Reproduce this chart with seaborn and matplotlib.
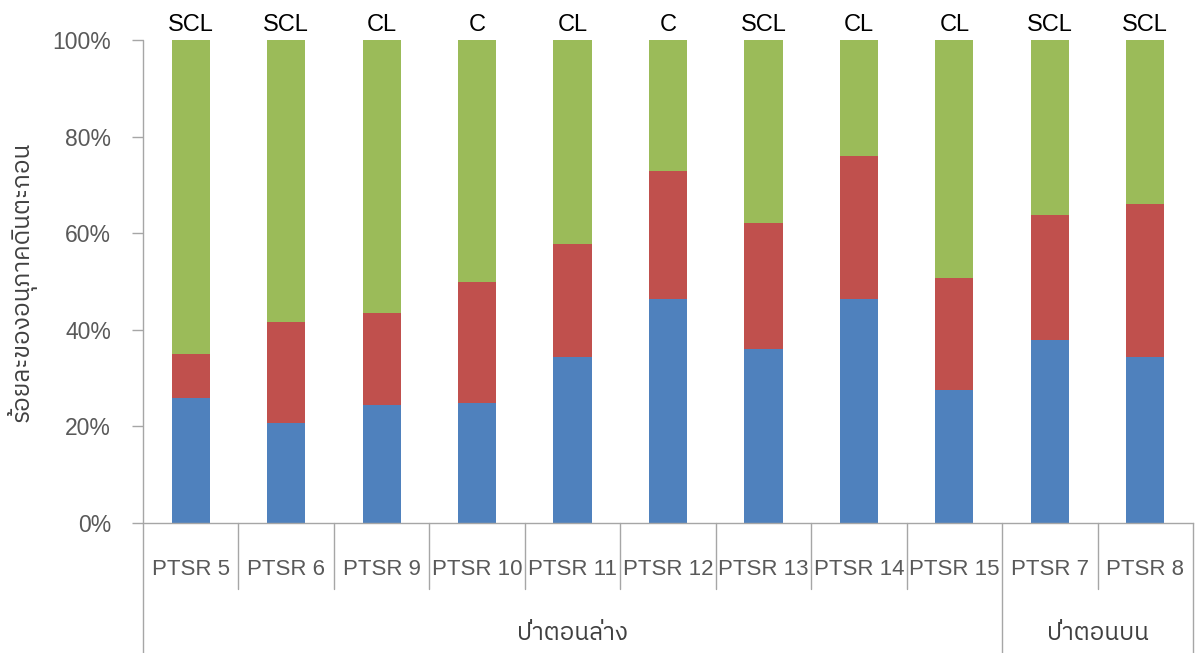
import matplotlib
matplotlib.use("Agg")
import matplotlib.pyplot as plt
from matplotlib import font_manager
import matplotlib.transforms as mtransforms
import seaborn as sns
import numpy as np
import pandas as pd

# ---- data -------------------------------------------------------------
samples = ["PTSR 5", "PTSR 6", "PTSR 9", "PTSR 10", "PTSR 11", "PTSR 12",
           "PTSR 13", "PTSR 14", "PTSR 15", "PTSR 7", "PTSR 8"]
clay = [25.8, 20.8, 24.5, 24.9, 34.4, 46.3, 36.1, 46.3, 27.6, 37.9, 34.4]
silt = [9.1, 20.8, 18.9, 24.9, 23.4, 26.5, 26.1, 29.7, 23.2, 25.8, 31.6]
sand = [65.1, 58.4, 56.6, 50.2, 42.2, 27.2, 37.8, 24.0, 49.2, 36.3, 34.0]
texture = ["SCL", "SCL", "CL", "C", "CL", "C", "SCL", "CL", "CL", "SCL", "SCL"]
groups = ["ป่าตอนล่าง", "ป่าตอนบน"]
group_sizes = [9, 2]
y_ticks = [0, 20, 40, 60, 80, 100]
y_label = "ร้อยละของอนุภาคดินตะกอน"


# ---- fonts ------------------------------------------------------------
def find_thai_family():
    """Return the name of an installed family that covers Thai script."""
    cands = [f for f in font_manager.fontManager.ttflist]
    for f in cands:
        if "thai" in f.name.lower() and "looped" not in f.name.lower():
            return f.name
    try:
        from fontTools.ttLib import TTFont
    except Exception:
        return None
    seen = set()
    for f in cands:
        if f.fname in seen:
            continue
        seen.add(f.fname)
        try:
            tt = TTFont(f.fname, fontNumber=0, lazy=True)
            cmap = tt.getBestCmap() or {}
            if 0x0E1B in cmap and 0x0E32 in cmap:
                return f.name
        except Exception:
            continue
    return None


sns.set_theme(style="white")
latin = "Liberation Sans"
thai = find_thai_family()
families = [latin] + ([thai] if thai else []) + ["DejaVu Sans"]
plt.rcParams["font.family"] = families

blue, red, green = "#4F81BD", "#C0504D", "#9BBB59"
axis_grey = "#A6A6A6"
text_grey = "#595959"

df = pd.DataFrame({"sample": samples, "clay": clay, "silt": silt, "sand": sand})

fig = plt.figure(figsize=(11.96, 6.53), dpi=100)
ax = fig.add_axes([143 / 1196, 1 - 523 / 653, 1050 / 1196, 483 / 653])

# stacked bars: clay at the bottom, silt above, sand on top
sns.barplot(data=df, x="sample", y="clay", color=blue, width=0.4,
            saturation=1, edgecolor="none", ax=ax)
sns.barplot(data=df, x="sample", y="silt", bottom=df["clay"].to_numpy(),
            color=red, width=0.4, saturation=1, edgecolor="none", ax=ax)
sns.barplot(data=df, x="sample", y="sand",
            bottom=(df["clay"] + df["silt"]).to_numpy(),
            color=green, width=0.4, saturation=1, edgecolor="none", ax=ax)

n = len(samples)
ax.set_xlim(-0.5, n - 0.5)
ax.set_ylim(0, 100)
ax.set_xlabel("")
ax.set_ylabel("")

# y axis
ax.set_yticks(y_ticks)
ax.set_yticklabels([f"{t}%" for t in y_ticks], fontsize=16.5, color=text_grey)
ax.tick_params(axis="y", length=8, width=1, color=axis_grey, pad=15, left=True)
ax.tick_params(axis="x", length=0, labelbottom=False)

for s in ["top", "right"]:
    ax.spines[s].set_visible(False)
ax.spines["left"].set_visible(False)
ax.spines["bottom"].set_color(axis_grey)
ax.spines["bottom"].set_linewidth(1)

# texture class above each bar
for i, lab in enumerate(texture):
    ax.text(i, 101.9, lab, ha="center", va="baseline", fontsize=17,
            color="black")

# two-level category axis
trans = mtransforms.blended_transform_factory(ax.transData, ax.transAxes)
sep_short = -66 / 483
sep_full = -131 / 483
for i, lab in enumerate(samples):
    ax.text(i, -52 / 483, lab, transform=trans, ha="center", va="baseline",
            fontsize=16, color=text_grey)

group_edges = np.concatenate([[0], np.cumsum(group_sizes)]) - 0.5
for i in range(1, n):
    xpos = i - 0.5
    full = np.any(np.isclose(group_edges, xpos))
    ax.plot([xpos, xpos], [0, sep_full if full else sep_short],
            transform=trans, color=axis_grey, lw=1, clip_on=False)
# left axis line down through the category band
ax.plot([-0.5, -0.5], [0, 1], transform=trans, color=axis_grey, lw=1,
        clip_on=False)
ax.plot([-0.5, -0.5], [0, sep_full], transform=trans, color=axis_grey, lw=1,
        clip_on=False)
ax.plot([n - 0.5, n - 0.5], [0, sep_full], transform=trans, color=axis_grey,
        lw=1, clip_on=False)

for g, (a, b) in enumerate(zip(group_edges[:-1], group_edges[1:])):
    ax.text((a + b) / 2, -117 / 483, groups[g], transform=trans, ha="center",
            va="baseline", fontsize=17.5, color="#404040")

fig.text(22 / 1196, 1 - 282 / 653, y_label, rotation=90, ha="center",
         va="center", fontsize=17.5, color="#404040")

fig.savefig("out.png", dpi=100)
